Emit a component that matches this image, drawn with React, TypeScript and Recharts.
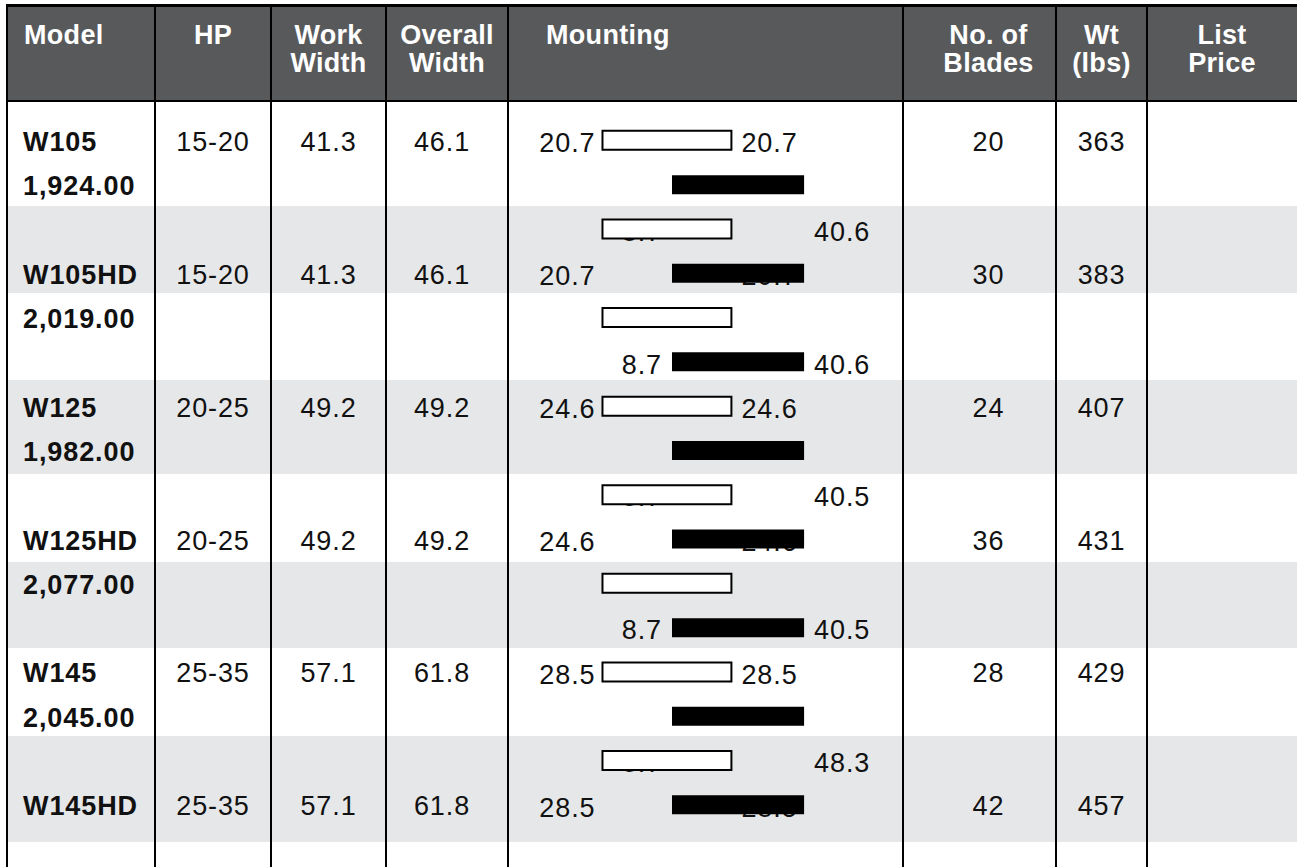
import React from "react";
import { BarChart, Bar, XAxis, YAxis } from "recharts";

// table values
const models = ["W105", "W105HD", "W125", "W125HD", "W145", "W145HD"];
const prices = ["1,924.00", "2,019.00", "1,982.00", "2,077.00", "2,045.00", ""];
const hpRanges = ["15-20", "15-20", "20-25", "20-25", "25-35", "25-35"];
const workWidths = ["41.3", "41.3", "49.2", "49.2", "57.1", "57.1"];
const overallWidths = ["46.1", "46.1", "49.2", "49.2", "61.8", "61.8"];
const bladeCounts = ["20", "30", "24", "36", "28", "42"];
const weights = ["363", "383", "407", "431", "429", "457"];

// mounting chart: one bar per sub-row, white and black alternating
const rowIds = ["r0", "r1", "r2", "r3", "r4", "r5", "r6", "r7", "r8", "r9", "r10", "r11", "r12", "r13", "r14", "r15"];
const rowKinds = ["w", "b", "w", "b", "w", "b", "w", "b", "w", "b", "w", "b", "w", "b", "w", "b"];
const whiteRange = [-20.1, 20.7];
const blackRange = [1.9, 43.7];
const whiteLeftLabels = ["20.7", "", "", "20.7", "", "", "24.6", "", "", "24.6", "", "", "28.5", "", "", "28.5"];
const whiteRightLabels = ["20.7", "", "", "20.7", "", "", "24.6", "", "", "24.6", "", "", "28.5", "", "", "28.5"];
const blackLeftLabels = ["", "", "8.7", "", "", "8.7", "", "", "8.7", "", "", "8.7", "", "", "8.7", ""];
const blackRightLabels = ["", "", "40.6", "", "", "40.6", "", "", "40.5", "", "", "40.5", "", "", "48.3", ""];

const headers = [["Model"], ["HP"], ["Work", "Width"], ["Overall", "Width"], ["Mounting"], ["No. of", "Blades"], ["Wt", "(lbs)"], ["List", "Price"]];

const W = 1297;
const H = 867;
const FONT = "'Liberation Sans', Arial, Helvetica, sans-serif";
const FS = 27;
const LS = 0.9;
const HEAD_LS = 0.3;
const COLS = [7, 155, 271, 386, 508, 903, 1056, 1147, 1297];
const ROW_TOP = 117.85;
const ROW_H = 44.3;
const BAR = 19;
const HEADER_GRAY = "#58595b";
const STRIPE = "#e6e7e8";
const STRIPES = [[206, 293], [380, 474], [562, 648], [736, 842]];

const rows = rowIds.map((id, i) => ({
  row: id,
  wGhost: whiteRange,
  bGhost: blackRange,
  white: rowKinds[i] === "w" ? whiteRange : null,
  black: rowKinds[i] === "b" ? blackRange : null,
  wl: whiteLeftLabels[i],
  wr: whiteRightLabels[i],
  bl: blackLeftLabels[i],
  br: blackRightLabels[i],
}));

const labelStyle = { fontFamily: FONT, fontSize: FS, letterSpacing: LS, fill: "#111" };

function pairLabels(left: string, right: string, x: number, y: number, width: number, height: number, padL: number, padR: number) {
  const base = y + height / 2 + 2 + FS * 0.358;
  return (
    <g>
      {left ? (
        <text x={x - padL} y={base} textAnchor="end" {...labelStyle}>{left}</text>
      ) : null}
      {right ? (
        <text x={x + width + padR} y={base} textAnchor="start" {...labelStyle}>{right}</text>
      ) : null}
    </g>
  );
}

const WhiteLabels = (p: any) => {
  const d = p.payload ?? rows[p.index];
  return pairLabels(d.wl, d.wr, p.x, p.y, p.width, p.height, 7, 10);
};

const BlackLabels = (p: any) => {
  const d = p.payload ?? rows[p.index];
  return pairLabels(d.bl, d.br, p.x, p.y, p.width, p.height, 10, 10);
};

function cellStyle(c: number, align: string, extra: any = {}) {
  return {
    position: "absolute" as const,
    left: COLS[c],
    width: COLS[c + 1] - COLS[c],
    textAlign: align as any,
    boxSizing: "border-box" as const,
    whiteSpace: "nowrap" as const,
    ...extra,
  };
}

const headerPads: any[] = [
  { paddingLeft: 17 },
  {},
  {},
  {},
  { paddingLeft: 38 },
  { paddingLeft: 18 },
  {},
  {},
];
const headerAlign = ["left", "center", "center", "center", "left", "center", "center", "center"];

export default function App() {
  const rowTop = (r: number) => ROW_TOP + r * ROW_H + 2;
  const bodyText = (c: number, r: number, txt: string, align: string, extra: any = {}) => (
    <div
      key={`${c}-${r}`}
      style={{
        ...cellStyle(c, align, extra),
        top: rowTop(r),
        height: ROW_H,
        lineHeight: `${ROW_H}px`,
        fontSize: FS,
        letterSpacing: LS,
        color: "#111",
      }}
    >
      {txt}
    </div>
  );

  return (
    <div style={{ position: "absolute", left: 0, top: 0, width: W, height: H, background: "#fff", overflow: "hidden", fontFamily: FONT }}>
      {STRIPES.map(([a, b], i) => (
        <div key={`s${i}`} style={{ position: "absolute", left: COLS[0], width: W - COLS[0], top: a, height: b - a, background: STRIPE }} />
      ))}

      <div style={{ position: "absolute", left: COLS[0], top: 5, width: W - COLS[0], height: 96, background: HEADER_GRAY }} />
      {headers.map((lines, c) => (
        <div
          key={`h${c}`}
          style={{
            ...cellStyle(c, headerAlign[c], headerPads[c]),
            top: 21,
            lineHeight: "28px",
            fontSize: FS,
            letterSpacing: HEAD_LS,
            fontWeight: 700,
            color: "#fff",
          }}
        >
          {lines.map((l, j) => (
            <div key={j}>{l}</div>
          ))}
        </div>
      ))}

      {models.map((m, k) => {
        const r = k * 3;
        return (
          <React.Fragment key={m}>
            {bodyText(0, r, m, "left", { paddingLeft: 16, fontWeight: 700, letterSpacing: 0.8 })}
            {prices[k] ? bodyText(0, r + 1, prices[k], "left", { paddingLeft: 16, fontWeight: 700, letterSpacing: 0.8 }) : null}
            {bodyText(1, r, hpRanges[k], "center")}
            {bodyText(2, r, workWidths[k], "center")}
            {bodyText(3, r, overallWidths[k], "center", { paddingRight: 10 })}
            {bodyText(5, r, bladeCounts[k], "center", { paddingLeft: 18 })}
            {bodyText(6, r, weights[k], "center")}
          </React.Fragment>
        );
      })}

      <div style={{ position: "absolute", left: COLS[4], top: 0 }}>
        <BarChart
          width={COLS[5] - COLS[4]}
          height={H}
          layout="vertical"
          data={rows}
          margin={{ top: ROW_TOP, bottom: H - ROW_TOP - rowIds.length * ROW_H, left: 0, right: 0 }}
          barSize={BAR}
          barGap={-BAR}
          barCategoryGap={0}
        >
          <XAxis type="number" domain={[-50, 75]} hide />
          <YAxis type="category" dataKey="row" hide />
          <Bar dataKey="wGhost" fill="none" shape={WhiteLabels} isAnimationActive={false} />
          <Bar dataKey="bGhost" fill="none" shape={BlackLabels} isAnimationActive={false} />
          <Bar dataKey="white" fill="#fff" stroke="#000" strokeWidth={2} isAnimationActive={false} />
          <Bar dataKey="black" fill="#000" isAnimationActive={false} />
        </BarChart>
      </div>

      <div style={{ position: "absolute", left: COLS[0], top: 4, width: W - COLS[0], height: 2.5, background: "#000" }} />
      <div style={{ position: "absolute", left: COLS[0], top: 100, width: W - COLS[0], height: 2, background: "#000" }} />
      {COLS.slice(0, 8).map((x, i) => (
        <div key={`v${i}`} style={{ position: "absolute", left: x - 1, top: 4, width: 2, height: H - 4, background: "#000" }} />
      ))}
    </div>
  );
}
